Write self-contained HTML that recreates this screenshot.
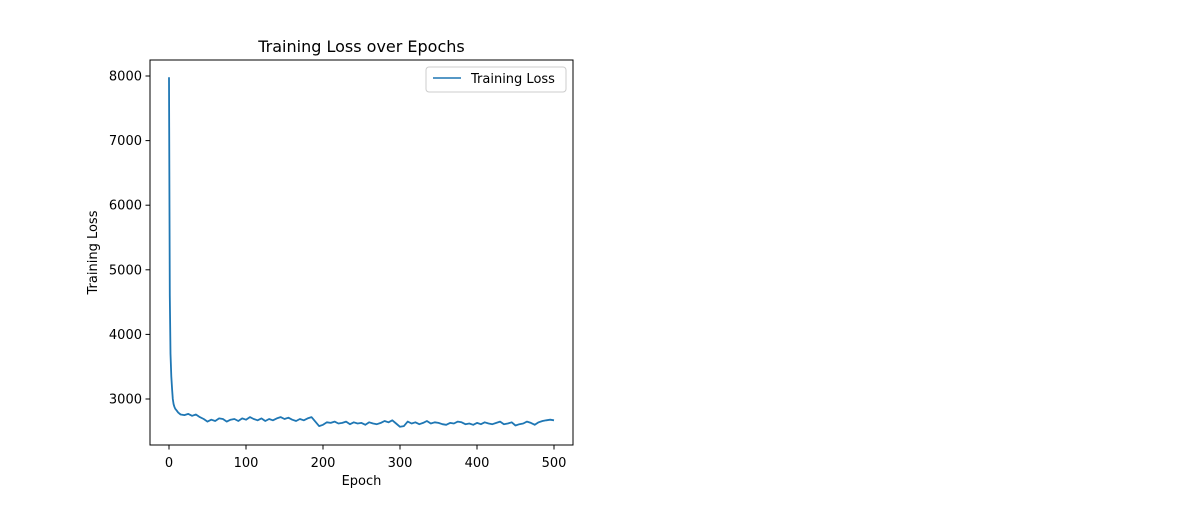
<!DOCTYPE html>
<html><head><meta charset="utf-8"><style>
body{margin:0;background:#fff;}
svg text{font-family:"DejaVu Sans","Liberation Sans",sans-serif;fill:#000;}
</style></head><body>
<svg id="chart" width="1200" height="500" xmlns="http://www.w3.org/2000/svg">
<rect width="1200" height="500" fill="#fff"/>
<text x="361.5" y="52" font-size="16" text-anchor="middle">Training Loss over Epochs</text>
<g id="xt"></g>
<g id="yt"></g>
<path id="line" fill="none" stroke="#1f77b4" stroke-width="1.8" stroke-linejoin="round"/>
<rect x="150" y="60" width="423" height="385" fill="none" stroke="#000" stroke-width="1"/>
<text x="361.5" y="485" font-size="13" text-anchor="middle">Epoch</text>
<text transform="translate(97,252.5) rotate(-90)" font-size="13" text-anchor="middle">Training Loss</text>
<g>
<rect x="426" y="67" width="140" height="25" rx="3" fill="#fff" stroke="#ccc"/>
<line x1="433" y1="78" x2="461" y2="78" stroke="#1f77b4" stroke-width="1.5"/>
<text x="471" y="83" font-size="13">Training Loss</text>
</g>
</svg>
<script>
const earlyEpochs=[0,1,2,3,4,5,6,7,8,10,12];
const earlyLoss=[7980,4600,3700,3350,3150,3000,2920,2880,2850,2820,2790];
const lateLoss=[2760,2750,2770,2740,2760,2720,2690,2650,2680,2660,2700,2690,2650,2680,2690,2660,2700,2680,2720,2690,2670,2700,2660,2690,2670,2700,2720,2690,2710,2680,2660,2690,2670,2700,2720,2650,2580,2600,2640,2630,2650,2620,2630,2650,2610,2640,2620,2630,2600,2640,2620,2610,2630,2660,2640,2670,2620,2570,2580,2650,2620,2640,2610,2630,2660,2620,2640,2630,2610,2600,2630,2620,2650,2640,2610,2620,2600,2630,2610,2640,2620,2610,2630,2650,2610,2620,2640,2590,2610,2620,2650,2630,2600,2640,2660,2670,2680,2670];
const xTicks=[0,100,200,300,400,500];
const yTicks=[3000,4000,5000,6000,7000,8000];
const X=v=>169+v*0.77, Y=v=>399-(v-3000)*0.0646;
const ns="http://www.w3.org/2000/svg";
const epochs=earlyEpochs.slice(), loss=earlyLoss.slice();
lateLoss.forEach((v,i)=>{epochs.push(Math.min(500,15+i*5));loss.push(v);});
document.getElementById('line').setAttribute('d',epochs.map((e,i)=>(i?'L':'M')+X(e).toFixed(1)+','+Y(loss[i]).toFixed(1)).join(''));
const xt=document.getElementById('xt'),yt=document.getElementById('yt');
xTicks.forEach(t=>{const l=document.createElementNS(ns,'line');l.setAttribute('x1',X(t));l.setAttribute('x2',X(t));l.setAttribute('y1',445);l.setAttribute('y2',449.5);l.setAttribute('stroke','#000');xt.appendChild(l);
const s=document.createElementNS(ns,'text');


s.setAttribute('x',X(t));s.setAttribute('y',467);s.setAttribute('font-size','13');s.setAttribute('text-anchor','middle');s.textContent=t;xt.appendChild(s);});
yTicks.forEach(t=>{const l=document.createElementNS(ns,'line');l.setAttribute('x1',145.5);l.setAttribute('x2',150);l.setAttribute('y1',Y(t));l.setAttribute('y2',Y(t));l.setAttribute('stroke','#000');yt.appendChild(l);
const s=document.createElementNS(ns,'text');


s.setAttribute('x',142);s.setAttribute('y',Y(t)+4.5);s.setAttribute('font-size','13');s.setAttribute('text-anchor','end');s.textContent=t;yt.appendChild(s);});
</script>
</body></html>
